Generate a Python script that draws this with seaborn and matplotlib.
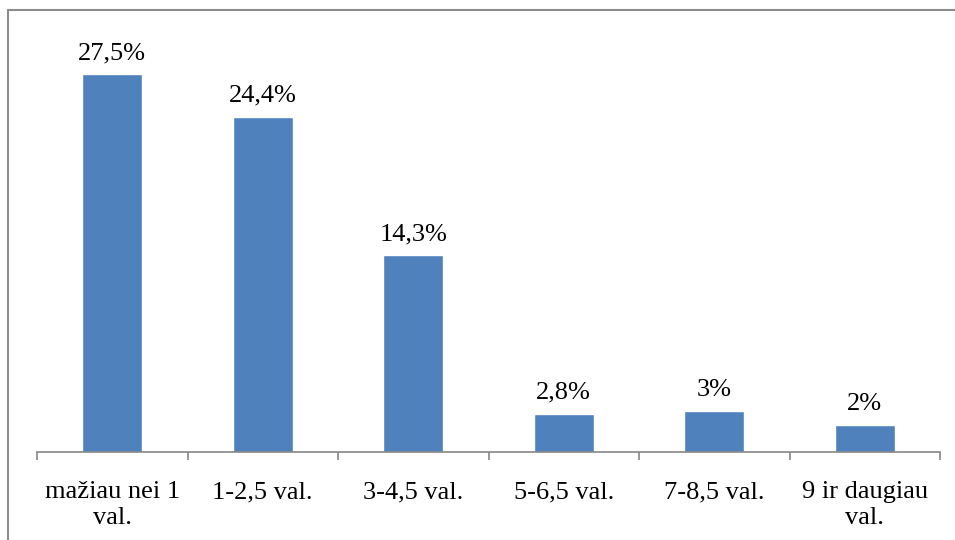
import matplotlib.pyplot as plt
import seaborn as sns
import pandas as pd
from matplotlib.lines import Line2D

categories = ["mažiau nei 1\nval.", "1-2,5 val.", "3-4,5 val.", "5-6,5 val.", "7-8,5 val.", "9 ir daugiau\nval."]
values = [27.5, 24.4, 14.3, 2.8, 3, 2]
value_labels = ["27,5%", "24,4%", "14,3%", "2,8%", "3%", "2%"]

sns.set_style("white")
plt.rcParams["font.family"] = ["Liberation Serif", "DejaVu Serif"]
plt.rcParams["text.color"] = "black"
plt.rcParams["xtick.color"] = "black"

df = pd.DataFrame({"cat": categories, "val": values})

fig = plt.figure(figsize=(9.55, 5.4), dpi=100)
ax = fig.add_axes([37 / 955, 88 / 540, 903 / 955, 412.5 / 540])

sns.barplot(data=df, x="cat", y="val", color="#4F81BD", saturation=1, width=0.4, ax=ax)

ax.set_ylim(0, 30)
ax.set_xlim(-0.5, len(categories) - 0.5)
ax.set_xlabel("")
ax.set_ylabel("")
ax.set_yticks([])

for s in ["top", "right", "left"]:
    ax.spines[s].set_visible(False)
ax.spines["bottom"].set_color("#868686")
ax.spines["bottom"].set_linewidth(1.2)

# ticks between categories
ax.set_xticks([i - 0.5 for i in range(len(categories) + 1)], minor=True)
ax.tick_params(axis="x", which="minor", length=6, width=1.2, color="#868686", direction="out", bottom=True)
ax.tick_params(axis="x", which="major", length=0, pad=21, labelsize=19, labelcolor="black")
for lbl in ax.get_xticklabels():
    lbl.set_linespacing(1.25)
    lbl.set_va("top")

for i, (v, t) in enumerate(zip(values, value_labels)):
    ax.annotate(t, (i, v), xytext=(0, 7), textcoords="offset points",
                ha="center", va="bottom", fontsize=19, color="black")

# chart area border (top and left visible)
fig.add_artist(Line2D([8 / 955, 8 / 955], [0, 1 - 10 / 540], transform=fig.transFigure, color="#8c8c8c", lw=1.5))
fig.add_artist(Line2D([8 / 955, 1], [1 - 10 / 540, 1 - 10 / 540], transform=fig.transFigure, color="#8c8c8c", lw=1.5))

fig.savefig("out.png", dpi=100)
